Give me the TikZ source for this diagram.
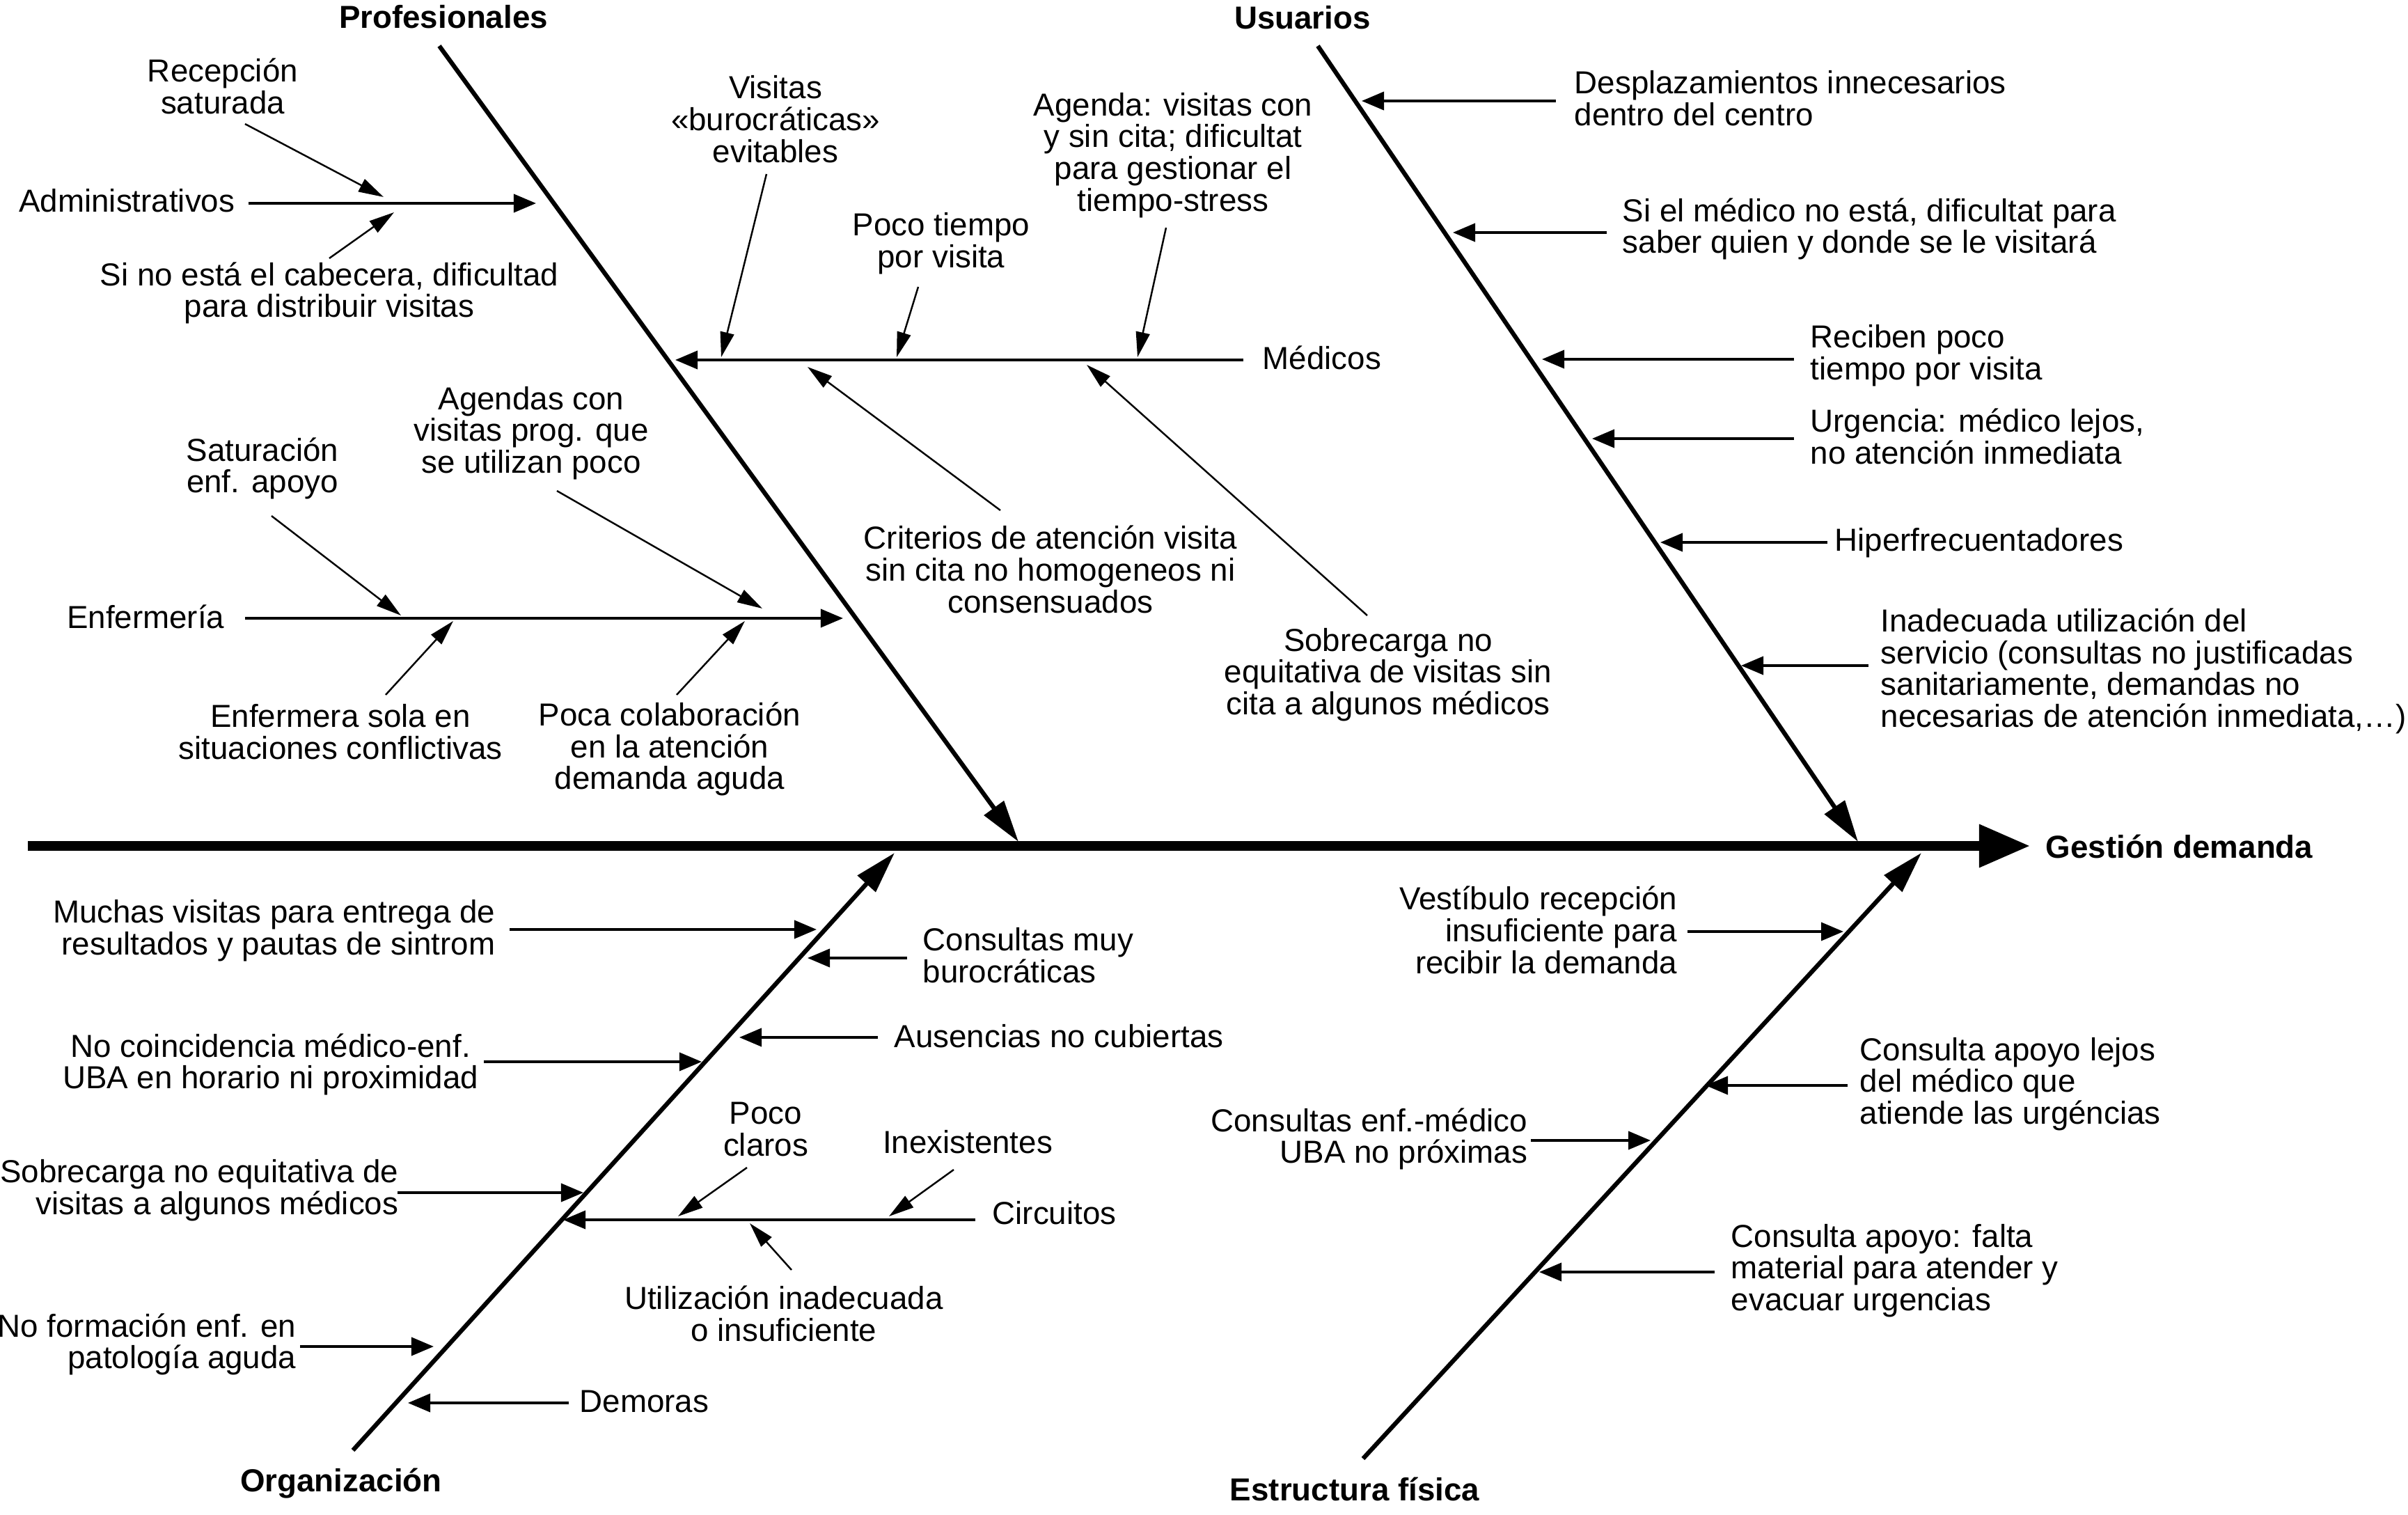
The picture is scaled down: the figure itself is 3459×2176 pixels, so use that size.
\documentclass[tikz,border=0pt]{standalone}
\usepackage{fontspec}
\setmainfont{Liberation Sans}
\usetikzlibrary{arrows.meta}
\begin{document}
\begin{tikzpicture}[x=0.01cm,y=-0.01cm,
  txt/.style={font=\fontsize{13pt}{13pt}\selectfont, inner sep=0pt, align=center},
  ttl/.style={font=\fontsize{13pt}{13pt}\selectfont\bfseries, inner sep=0pt},
  spine/.style={line width=3.7pt, -{Triangle[length=0.73cm,width=0.59cm]}},
  bone/.style={line width=1.8pt, -{Triangle[length=0.6cm,width=0.34cm]}},
  sub/.style={line width=1.1pt, -{Triangle[length=0.32cm,width=0.26cm]}},
  twig/.style={line width=0.7pt, -{Triangle[length=0.36cm,width=0.2cm]}}]
\useasboundingbox (0,0) rectangle (3459,2176);

% ---------- spine ----------
\coordinate (sp0) at (40,1215);
\node[ttl, anchor=west] (gest) at (2938,1216) {Gestión demanda};
\coordinate (sp1) at (2916,1215);
\draw[spine] (sp0) -- (sp1);

% ---------- titles ----------
\node[ttl] (prof) at (637,24) {Profesionales};
\node[ttl] (usu) at (1871,25) {Usuarios};
\node[ttl] (org) at (490,2131) {Organización};
\node[ttl] (est) at (1946,2139) {Estructura física};

% ---------- main bones ----------
\coordinate (b1s) at (631,66);   \coordinate (b1e) at (1463,1209);
\coordinate (b2s) at (1893,66);  \coordinate (b2e) at (2669,1209);
\coordinate (b3s) at (507,2083); \coordinate (b3e) at (1285,1225);
\coordinate (b4s) at (1958,2095);\coordinate (b4e) at (2760,1225);
\draw[bone] (b1s) -- (b1e);
\draw[bone] (b2s) -- (b2e);
\draw[bone] (b3s) -- (b3e);
\draw[bone] (b4s) -- (b4e);

% ---------- Profesionales ----------
\node[txt, anchor=east] (adm) at (338,288) {Administrativos};
\coordinate (adm0) at (357,292); \coordinate (adm1) at (770,292);
\draw[sub] (adm0) -- (adm1);
\node[txt] (rec) at (320,124) {Recepción\\saturada};
\coordinate (rec0) at (352,178); \coordinate (rec1) at (551,283);
\draw[twig] (rec0) -- (rec1);
\node[txt] (sino) at (473,421) {Si no está el cabecera, dificultad\\para distribuir visitas};
\coordinate (sino0) at (473,371); \coordinate (sino1) at (566,305);
\draw[twig] (sino0) -- (sino1);

\node[txt, anchor=west] (med) at (1813,514) {Médicos};
\coordinate (med0) at (1786,517); \coordinate (med1) at (970,517);
\draw[sub] (med0) -- (med1);
\node[txt] (vis) at (1114,171) {Visitas\\«burocráticas»\\evitables};
\coordinate (vis0) at (1101,250); \coordinate (vis1) at (1036,513);
\draw[twig] (vis0) -- (vis1);
\node[txt] (poco) at (1352,350) {Poco tiempo\\por visita};
\coordinate (poco0) at (1319,412); \coordinate (poco1) at (1288,513);
\draw[twig] (poco0) -- (poco1);
\node[txt] (agenda) at (1685,223) {Agenda: visitas con\\y sin cita; dificultat\\para gestionar el\\tiempo-stress};
\coordinate (ag0) at (1675,327); \coordinate (ag1) at (1634,513);
\draw[twig] (ag0) -- (ag1);
\node[txt] (crit) at (1509,818) {Criterios de atención visita\\sin cita no homogeneos ni\\consensuados};
\coordinate (crit0) at (1437,733); \coordinate (crit1) at (1160,527);
\draw[twig] (crit0) -- (crit1);
\node[txt] (sobre) at (1994,969) {Sobrecarga no\\equitativa de visitas sin\\cita a algunos médicos};
\coordinate (sob0) at (1964,884); \coordinate (sob1) at (1561,524);
\draw[twig] (sob0) -- (sob1);

\node[txt, anchor=east] (enf) at (323,886) {Enfermería};
\coordinate (enf0) at (352,888); \coordinate (enf1) at (1211,888);
\draw[sub] (enf0) -- (enf1);
\node[txt] (sat) at (377,673) {Saturación\\enf. apoyo};
\coordinate (sat0) at (390,741); \coordinate (sat1) at (576,884);
\draw[twig] (sat0) -- (sat1);
\node[txt] (agendas) at (763,622) {Agendas con\\visitas prog. que\\se utilizan poco};
\coordinate (ags0) at (800,705); \coordinate (ags1) at (1095,874);
\draw[twig] (ags0) -- (ags1);
\node[txt] (sola) at (489,1051) {Enfermera sola en\\situaciones conflictivas};
\coordinate (sola0) at (554,998); \coordinate (sola1) at (651,892);
\draw[twig] (sola0) -- (sola1);
\node[txt] (pocacol) at (962,1076) {Poca colaboración\\en la atención\\demanda aguda};
\coordinate (pc0) at (972,998); \coordinate (pc1) at (1070,892);
\draw[twig] (pc0) -- (pc1);

% ---------- Usuarios ----------
\node[txt, anchor=west, align=left] (desp) at (2261,141) {Desplazamientos innecesarios\\dentro del centro};
\coordinate (desp0) at (2235,145); \coordinate (desp1) at (1956,145);
\draw[sub] (desp0) -- (desp1);
\node[txt, anchor=west, align=left] (sielm) at (2330,329) {Si el médico no está, dificultat para\\saber quien y donde se le visitará};
\coordinate (siel0) at (2308,334); \coordinate (siel1) at (2087,334);
\draw[sub] (siel0) -- (siel1);
\node[txt, anchor=west, align=left] (reci) at (2600,511) {Reciben poco\\tiempo por visita};
\coordinate (reci0) at (2577,516); \coordinate (reci1) at (2215,516);
\draw[sub] (reci0) -- (reci1);
\node[txt, anchor=west, align=left] (urg) at (2600,627) {Urgencia: médico lejos,\\no atención inmediata};
\coordinate (urg0) at (2577,630); \coordinate (urg1) at (2287,630);
\draw[sub] (urg0) -- (urg1);
\node[txt, anchor=west, align=left] (hiper) at (2635,780) {Hiperfrecuentadores};
\coordinate (hip0) at (2625,779); \coordinate (hip1) at (2385,779);
\draw[sub] (hip0) -- (hip1);
\node[txt, anchor=west, align=left] (inad) at (2701,964) {Inadecuada utilización del\\servicio (consultas no justificadas\\sanitariamente, demandas no\\necesarias de atención inmediata,…)};
\coordinate (inad0) at (2684,956); \coordinate (inad1) at (2501,956);
\draw[sub] (inad0) -- (inad1);

% ---------- Organización ----------
\node[txt, anchor=east, align=right] (much) at (712,1337) {Muchas visitas para entrega de\\resultados y pautas de sintrom};
\coordinate (much0) at (732,1335); \coordinate (much1) at (1173,1335);
\draw[sub] (much0) -- (much1);
\node[txt, anchor=west, align=left] (cons) at (1325,1372) {Consultas muy\\burocráticas};
\coordinate (cons0) at (1303,1376); \coordinate (cons1) at (1160,1376);
\draw[sub] (cons0) -- (cons1);
\node[txt, anchor=east] (nocoin) at (688,1529) {No coincidencia médico-enf.\\UBA en horario ni proximidad};
\coordinate (noc0) at (695,1525); \coordinate (noc1) at (1008,1525);
\draw[sub] (noc0) -- (noc1);
\node[txt, anchor=west] (aus) at (1284,1488) {Ausencias no cubiertas};
\coordinate (aus0) at (1261,1490); \coordinate (aus1) at (1062,1490);
\draw[sub] (aus0) -- (aus1);
\node[txt, anchor=east, align=right] (sobreq) at (573,1710) {Sobrecarga no equitativa de\\visitas a algunos médicos};
\coordinate (seq0) at (571,1713); \coordinate (seq1) at (838,1713);
\draw[sub] (seq0) -- (seq1);
\node[txt, anchor=west] (circ) at (1425,1742) {Circuitos};
\coordinate (circ0) at (1401,1752); \coordinate (circ1) at (809,1752);
\draw[sub] (circ0) -- (circ1);
\node[txt] (pococ) at (1100,1622) {Poco\\claros};
\coordinate (pcl0) at (1073,1677); \coordinate (pcl1) at (974,1747);
\draw[twig] (pcl0) -- (pcl1);
\node[txt] (inex) at (1390,1640) {Inexistentes};
\coordinate (inex0) at (1370,1680); \coordinate (inex1) at (1277,1747);
\draw[twig] (inex0) -- (inex1);
\node[txt] (util) at (1126,1887) {Utilización inadecuada\\o insuficiente};
\coordinate (util0) at (1137,1824); \coordinate (util1) at (1077,1757);
\draw[twig] (util0) -- (util1);
\node[txt, anchor=east, align=right] (noform) at (426,1931) {No formación enf. en\\patología aguda};
\coordinate (nof0) at (431,1934); \coordinate (nof1) at (623,1934);
\draw[sub] (nof0) -- (nof1);
\node[txt, anchor=west] (dem) at (832,2013) {Demoras};
\coordinate (dem0) at (817,2015); \coordinate (dem1) at (586,2015);
\draw[sub] (dem0) -- (dem1);

% ---------- Estructura física ----------
\node[txt, anchor=east, align=right] (vest) at (2410,1336) {Vestíbulo recepción\\insuficiente para\\recibir la demanda};
\coordinate (vest0) at (2424,1338); \coordinate (vest1) at (2648,1338);
\draw[sub] (vest0) -- (vest1);
\node[txt, anchor=west, align=left] (consap) at (2671,1557) {Consulta apoyo lejos\\del médico que\\atiende las urgéncias};
\coordinate (cap0) at (2654,1559); \coordinate (cap1) at (2450,1559);
\draw[sub] (cap0) -- (cap1);
\node[txt, anchor=east, align=right] (consenf) at (2195,1636) {Consultas enf.-médico\\UBA no próximas};
\coordinate (cen0) at (2199,1638); \coordinate (cen1) at (2371,1638);
\draw[sub] (cen0) -- (cen1);
\node[txt, anchor=west, align=left] (consfal) at (2486,1825) {Consulta apoyo: falta\\material para atender y\\evacuar urgencias};
\coordinate (cf0) at (2463,1827); \coordinate (cf1) at (2211,1827);
\draw[sub] (cf0) -- (cf1);
\end{tikzpicture}
\end{document}
